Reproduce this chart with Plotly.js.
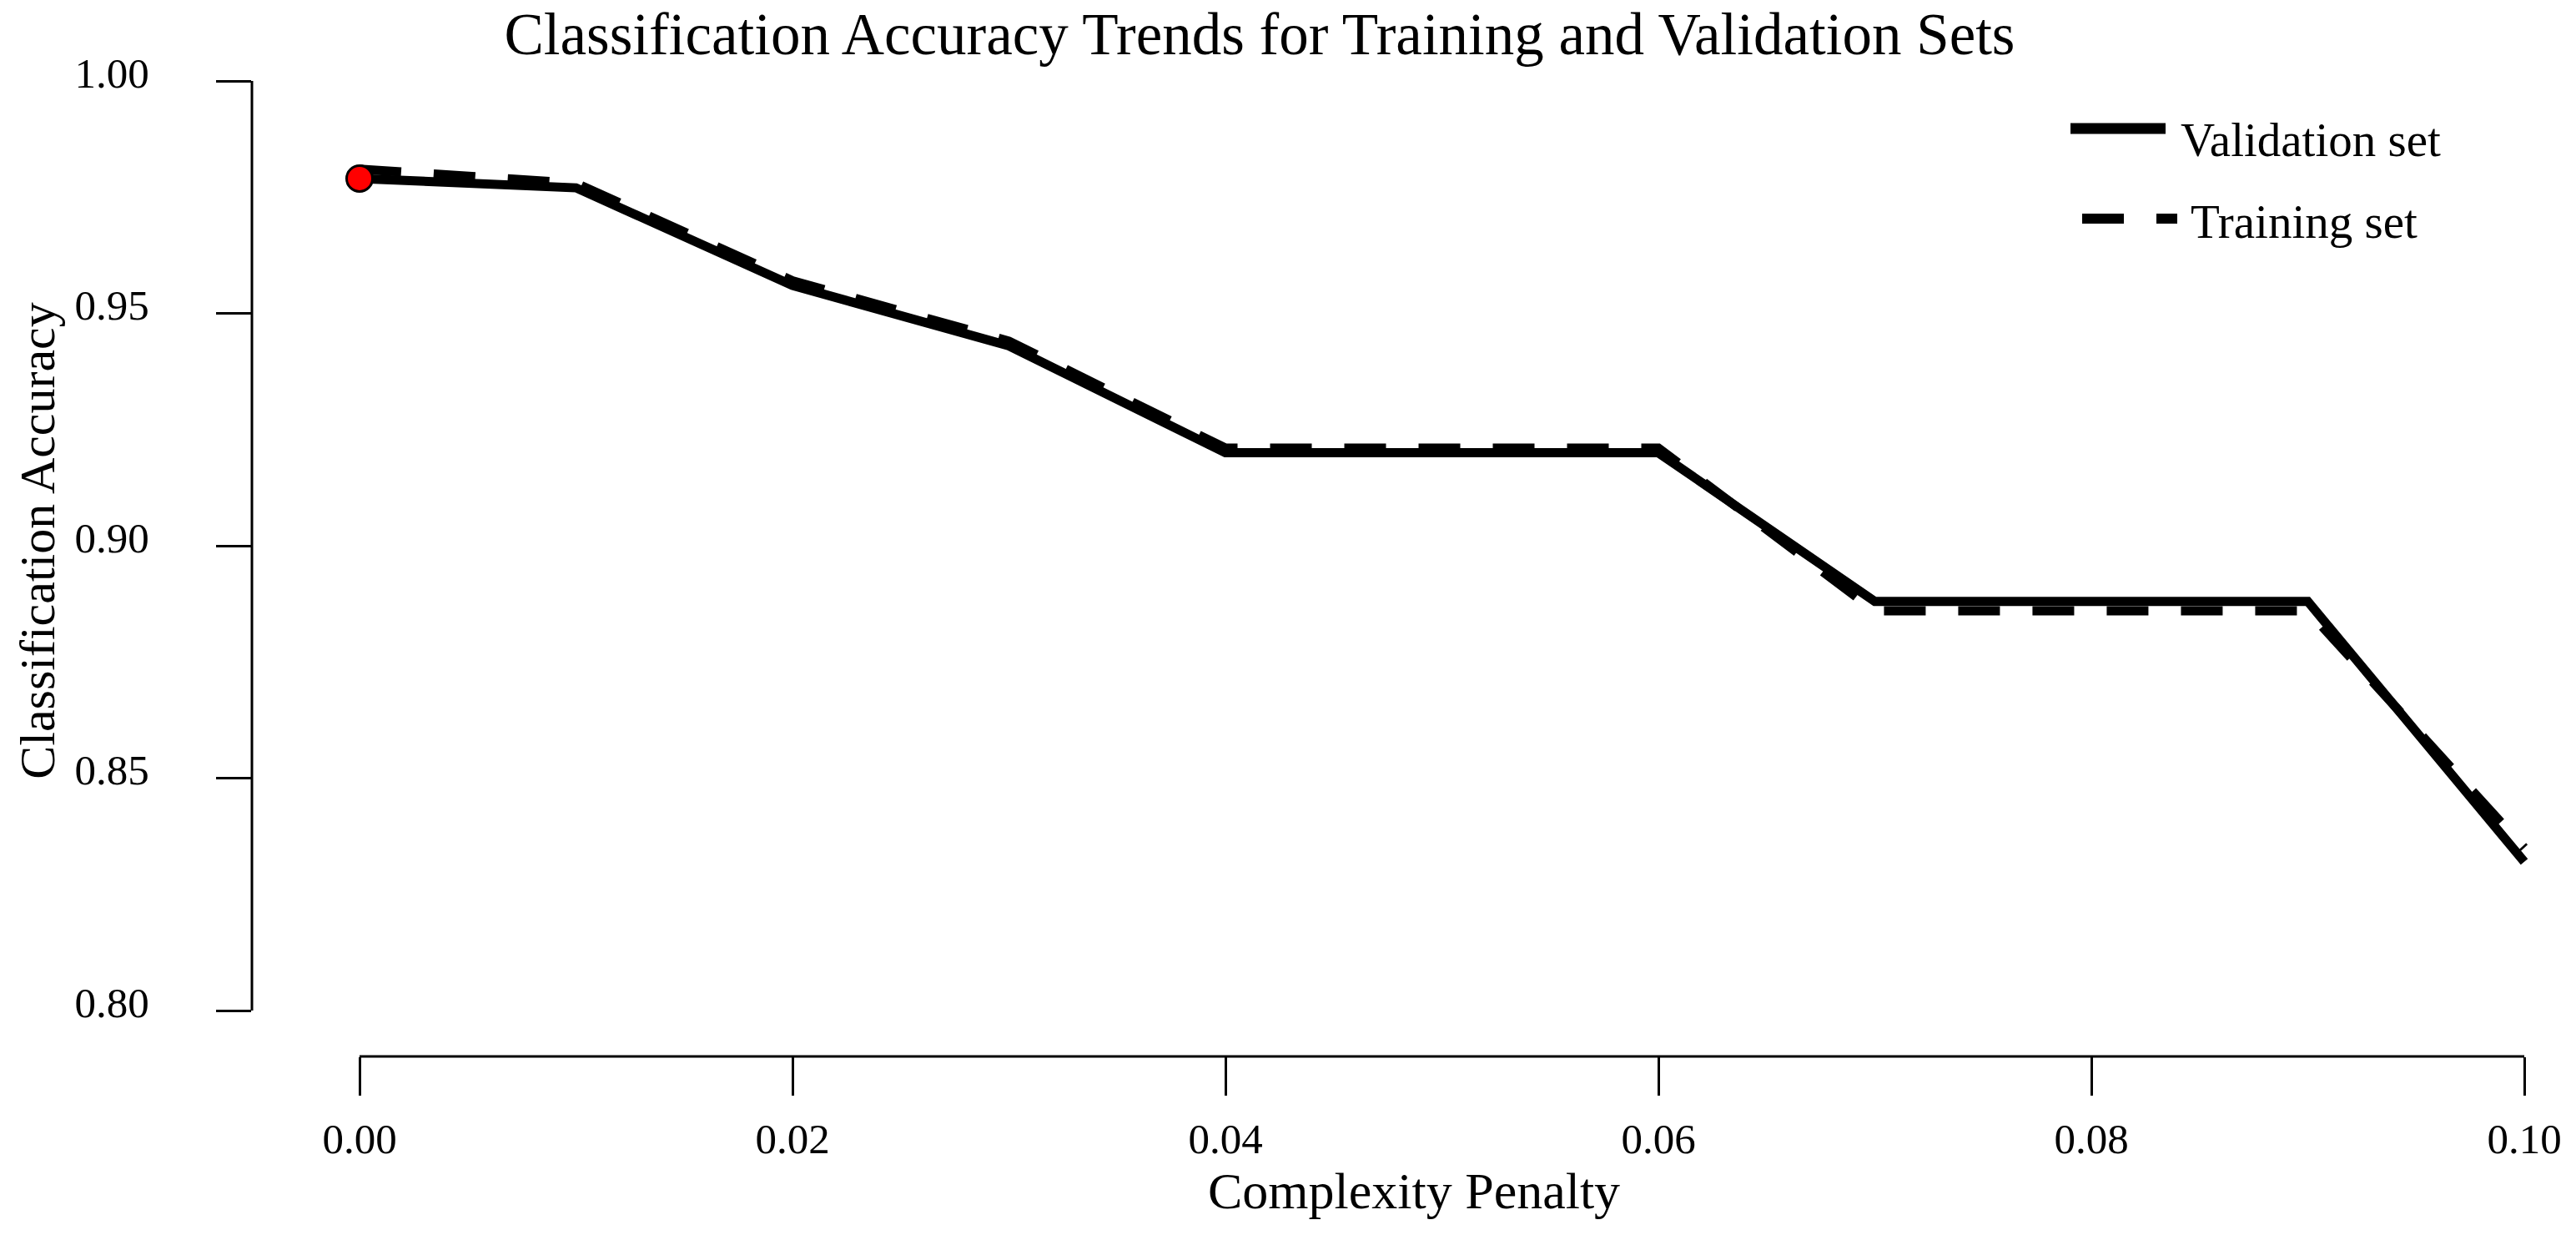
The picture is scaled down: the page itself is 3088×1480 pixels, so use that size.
<!DOCTYPE html>
<html>
<head>
<meta charset="utf-8">
<script src="https://cdn.plot.ly/plotly-3.0.1.min.js"></script>
<style>html,body{margin:0;padding:0;background:#fff;}#chart{width:3088px;height:1480px;}</style>
</head>
<body>
<div id="chart"></div>
<script>
// ---- data ----
const complexityPenalty = [0.00, 0.01, 0.02, 0.03, 0.04, 0.05, 0.06, 0.07, 0.08, 0.09, 0.10];
const validationAcc     = [0.979, 0.977, 0.956, 0.943, 0.920, 0.920, 0.920, 0.888, 0.888, 0.888, 0.832];
const trainingAcc       = [0.981, 0.978, 0.957, 0.944, 0.921, 0.921, 0.921, 0.886, 0.886, 0.886, 0.835];
const xTicks = [0.00, 0.02, 0.04, 0.06, 0.08, 0.10];
const xTickLabels = ["0.00", "0.02", "0.04", "0.06", "0.08", "0.10"];
const yTicks = [0.80, 0.85, 0.90, 0.95, 1.00];
const yTickLabels = ["0.80", "0.85", "0.90", "0.95", "1.00"];
const seriesNames = ["Validation set", "Training set"];

// best validation point (highlighted in red)
let bestIdx = 0;
validationAcc.forEach((v, i) => { if (v > validationAcc[bestIdx]) bestIdx = i; });

const FONT = "Liberation Serif, Times New Roman, serif";
const DASH = "50px,39px";

const traces = [
  {x: complexityPenalty, y: trainingAcc, type: "scatter", mode: "lines", name: seriesNames[1],
   line: {color: "#000", width: 11, dash: DASH}, showlegend: false},
  {x: complexityPenalty, y: validationAcc, type: "scatter", mode: "lines", name: seriesNames[0],
   line: {color: "#000", width: 11}, showlegend: false},
  {x: [complexityPenalty[bestIdx]], y: [validationAcc[bestIdx]], type: "scatter", mode: "markers",
   marker: {color: "#ff0000", size: 31, line: {color: "#000", width: 3}}, showlegend: false, hoverinfo: "skip"}
];

const W = 3088, H = 1480, L = 302, R = 0, T = 30, B = 214;
const pw = W - L - R, ph = H - T - B;
const px = v => (v - L) / pw;          // pixel -> paper x
const py = v => (H - B - v) / ph;      // pixel -> paper y

const layout = {
  width: W, height: H,
  margin: {l: L, r: R, t: T, b: B, pad: 0},
  paper_bgcolor: "#fff", plot_bgcolor: "#fff",
  font: {family: FONT, color: "#000", size: 51},
  title: {text: "Classification Accuracy Trends for Training and Validation Sets",
          font: {family: FONT, size: 71, color: "#000"},
          x: 1510 / W, xanchor: "center", y: 1 - 40 / H, yanchor: "middle"},
  xaxis: {
    range: [-0.004971, 0.102389], tickmode: "array", tickvals: xTicks, ticktext: xTickLabels,
    ticks: "outside", ticklen: 46, tickwidth: 3, tickcolor: "#000",
    showline: false, showgrid: false, zeroline: false,
    tickfont: {family: FONT, size: 51, color: "#000"}, ticklabelstandoff: 8,
    title: {text: "Complexity Penalty", font: {family: FONT, size: 62, color: "#000"}, standoff: 0}
  },
  yaxis: {
    range: [0.790126, 1.012029], tickmode: "array", tickvals: yTicks, ticktext: yTickLabels,
    ticks: "outside", ticklen: 42, tickwidth: 3, tickcolor: "#000",
    showline: false, showgrid: false, zeroline: false,
    tickfont: {family: FONT, size: 51, color: "#000"}, ticklabelstandoff: 70, ticklabelshift: -10,
    title: {text: "Classification Accuracy", font: {family: FONT, size: 60, color: "#000"}, standoff: 4}
  },
  shapes: [
    // axis lines spanning tick range (R style detached axes)
    {type: "line", xref: "x", yref: "paper", x0: xTicks[0], x1: xTicks[xTicks.length - 1], y0: 0, y1: 0,
     line: {color: "#000", width: 3}},
    {type: "line", xref: "paper", yref: "y", x0: 0, x1: 0, y0: yTicks[0], y1: yTicks[yTicks.length - 1],
     line: {color: "#000", width: 3}},
    // legend samples
    {type: "line", xref: "paper", yref: "paper", x0: px(2482), x1: px(2596), y0: py(154), y1: py(154),
     line: {color: "#000", width: 13}},
    {type: "line", xref: "paper", yref: "paper", x0: px(2496), x1: px(2610), y0: py(262), y1: py(262),
     line: {color: "#000", width: 12, dash: DASH}}
  ],
  annotations: [
    {text: seriesNames[0], xref: "paper", yref: "paper", x: px(2612), y: py(168), xanchor: "left", yanchor: "middle",
     showarrow: false, font: {family: FONT, size: 57, color: "#000"}},
    {text: seriesNames[1], xref: "paper", yref: "paper", x: px(2624), y: py(266), xanchor: "left", yanchor: "middle",
     showarrow: false, font: {family: FONT, size: 57, color: "#000"}}
  ]
};

Plotly.newPlot("chart", traces, layout, {staticPlot: true, displayModeBar: false});
</script>
</body>
</html>
